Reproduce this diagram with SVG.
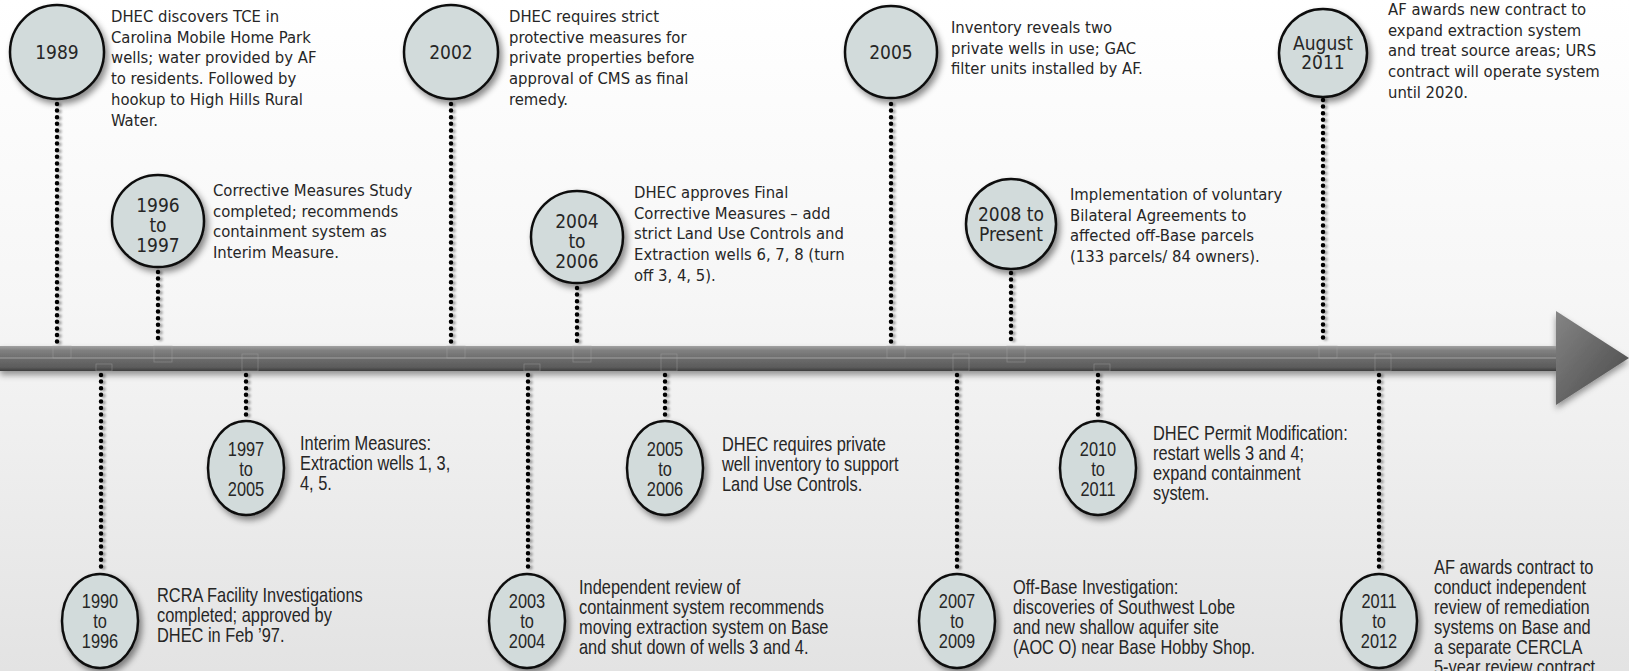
<svg xmlns="http://www.w3.org/2000/svg" width="1629" height="671" viewBox="0 0 1629 671">
<defs>
  <linearGradient id="bg" x1="0" y1="0" x2="0" y2="1">
    <stop offset="0" stop-color="#ffffff"/>
    <stop offset="0.45" stop-color="#f6f6f6"/>
    <stop offset="1" stop-color="#e3e3e3"/>
  </linearGradient>
  <linearGradient id="bar" x1="0" y1="0" x2="0" y2="1">
    <stop offset="0" stop-color="#a2a2a2"/>
    <stop offset="0.18" stop-color="#808080"/>
    <stop offset="0.5" stop-color="#6c6c6c"/>
    <stop offset="0.85" stop-color="#5c5c5c"/>
    <stop offset="1" stop-color="#3c3c3c"/>
  </linearGradient>
  <linearGradient id="head" x1="0" y1="0" x2="1" y2="1">
    <stop offset="0" stop-color="#858585"/>
    <stop offset="0.5" stop-color="#666666"/>
    <stop offset="1" stop-color="#484848"/>
  </linearGradient>
  <filter id="sh" x="-30%" y="-30%" width="160%" height="160%">
    <feDropShadow dx="3" dy="4" stdDeviation="3" flood-color="#000" flood-opacity="0.45"/>
  </filter>
  <filter id="dsh" x="-50%" y="-5%" width="200%" height="110%">
    <feDropShadow dx="2.5" dy="1" stdDeviation="1.2" flood-color="#000" flood-opacity="0.35"/>
  </filter>
  <filter id="bsh" x="-5%" y="-50%" width="110%" height="200%">
    <feDropShadow dx="0" dy="4" stdDeviation="3" flood-color="#000" flood-opacity="0.4"/>
  </filter>
</defs>
<style>
  .c { fill:#d2dbdb; stroke:#111; stroke-width:2.5; filter:url(#sh); }
  .dot { stroke:#000; stroke-width:4.5; stroke-linecap:round; stroke-dasharray:0 6.6; fill:none; }
  .t { font-family:"DejaVu Sans Condensed","DejaVu Sans",sans-serif; font-stretch:condensed; font-size:16.5px; fill:#262626; }
  .lt { font-family:"DejaVu Sans Condensed","DejaVu Sans",sans-serif; font-stretch:condensed; font-size:19px; fill:#262626; text-anchor:middle; }
  .b { font-family:"Liberation Sans",Arial,sans-serif; font-size:20px; fill:#262626; }
  .bl { font-family:"Liberation Sans",Arial,sans-serif; font-size:20px; fill:#262626; text-anchor:middle; }
  .tab { fill:none; stroke:#a8a8a8; stroke-width:0.8; opacity:0.5; }
</style>

<rect x="0" y="0" width="1629" height="671" fill="url(#bg)"/>

<g id="timeline-arrow">
  <g filter="url(#bsh)">
    <rect x="0" y="346" width="1560" height="25" fill="url(#bar)"/>
    <polygon points="1556,311 1629,358 1556,405" fill="url(#head)"/>
  </g>
  <line x1="0" y1="358" x2="1556" y2="358" stroke="#c4c4c4" stroke-width="1" opacity="0.6"/>
  <rect class="tab" x="53" y="346" width="18" height="12"/>
  <rect class="tab" x="154" y="346" width="18" height="16"/>
  <rect class="tab" x="447" y="346" width="18" height="12"/>
  <rect class="tab" x="573" y="346" width="18" height="16"/>
  <rect class="tab" x="887" y="346" width="18" height="12"/>
  <rect class="tab" x="1007" y="346" width="18" height="16"/>
  <rect class="tab" x="1319" y="346" width="18" height="12"/>
  <rect class="tab" x="96" y="364" width="16" height="7"/>
  <rect class="tab" x="242" y="354" width="16" height="17"/>
  <rect class="tab" x="524" y="364" width="16" height="7"/>
  <rect class="tab" x="661" y="354" width="16" height="17"/>
  <rect class="tab" x="953" y="354" width="16" height="17"/>
  <rect class="tab" x="1094" y="364" width="16" height="7"/>
  <rect class="tab" x="1375" y="354" width="16" height="17"/>
</g>

<g id="connectors" filter="url(#dsh)">
  <line class="dot" x1="57" y1="104" x2="57" y2="344"/>
  <line class="dot" x1="158" y1="272" x2="158" y2="344"/>
  <line class="dot" x1="451" y1="104" x2="451" y2="344"/>
  <line class="dot" x1="577" y1="288" x2="577" y2="344"/>
  <line class="dot" x1="891" y1="104" x2="891" y2="344"/>
  <line class="dot" x1="1011" y1="273" x2="1011" y2="344"/>
  <line class="dot" x1="1323" y1="100" x2="1323" y2="344"/>
  <line class="dot" x1="101" y1="375" x2="101" y2="571"/>
  <line class="dot" x1="246" y1="375" x2="246" y2="418"/>
  <line class="dot" x1="528" y1="375" x2="528" y2="571"/>
  <line class="dot" x1="665" y1="375" x2="665" y2="418"/>
  <line class="dot" x1="957" y1="375" x2="957" y2="571"/>
  <line class="dot" x1="1098" y1="375" x2="1098" y2="418"/>
  <line class="dot" x1="1379" y1="375" x2="1379" y2="571"/>
</g>

<g id="n1989">
  <circle class="c" cx="57" cy="52" r="47"/>
  <text class="lt" x="57" y="59">1989</text>
  <text class="t"><tspan x="111" y="22">DHEC discovers TCE in</tspan><tspan x="111" y="42.7">Carolina Mobile Home Park</tspan><tspan x="111" y="63.4">wells; water provided by AF</tspan><tspan x="111" y="84.1">to residents. Followed by</tspan><tspan x="111" y="104.8">hookup to High Hills Rural</tspan><tspan x="111" y="125.5">Water.</tspan></text>
</g>

<g id="n1996">
  <circle class="c" cx="158" cy="221" r="46"/>
  <text class="lt"><tspan x="158" y="212">1996</tspan><tspan x="158" y="232">to</tspan><tspan x="158" y="252">1997</tspan></text>
  <text class="t"><tspan x="213" y="196">Corrective Measures Study</tspan><tspan x="213" y="216.7">completed; recommends</tspan><tspan x="213" y="237.4">containment system as</tspan><tspan x="213" y="258.1">Interim Measure.</tspan></text>
</g>

<g id="n2002">
  <circle class="c" cx="451" cy="52" r="47"/>
  <text class="lt" x="451" y="59">2002</text>
  <text class="t"><tspan x="509" y="22">DHEC requires strict</tspan><tspan x="509" y="42.7">protective measures for</tspan><tspan x="509" y="63.4">private properties before</tspan><tspan x="509" y="84.1">approval of CMS as final</tspan><tspan x="509" y="104.8">remedy.</tspan></text>
</g>

<g id="n2004">
  <circle class="c" cx="577" cy="237" r="46"/>
  <text class="lt"><tspan x="577" y="228">2004</tspan><tspan x="577" y="248">to</tspan><tspan x="577" y="268">2006</tspan></text>
  <text class="t"><tspan x="634" y="198">DHEC approves Final</tspan><tspan x="634" y="218.7">Corrective Measures – add</tspan><tspan x="634" y="239.4">strict Land Use Controls and</tspan><tspan x="634" y="260.1">Extraction wells 6, 7, 8 (turn</tspan><tspan x="634" y="280.8">off 3, 4, 5).</tspan></text>
</g>

<g id="n2005">
  <circle class="c" cx="891" cy="52" r="46"/>
  <text class="lt" x="891" y="59">2005</text>
  <text class="t"><tspan x="951" y="33">Inventory reveals two</tspan><tspan x="951" y="53.7">private wells in use; GAC</tspan><tspan x="951" y="74.4">filter units installed by AF.</tspan></text>
</g>

<g id="n2008">
  <circle class="c" cx="1011" cy="224" r="45"/>
  <text class="lt"><tspan x="1011" y="221">2008 to</tspan><tspan x="1011" y="241">Present</tspan></text>
  <text class="t"><tspan x="1070" y="200">Implementation of voluntary</tspan><tspan x="1070" y="220.7">Bilateral Agreements to</tspan><tspan x="1070" y="241.4">affected off-Base parcels</tspan><tspan x="1070" y="262.1">(133 parcels/ 84 owners).</tspan></text>
</g>

<g id="nAug2011">
  <circle class="c" cx="1323" cy="53" r="44"/>
  <text class="lt"><tspan x="1323" y="50">August</tspan><tspan x="1323" y="69">2011</tspan></text>
  <text class="t"><tspan x="1388" y="15">AF awards new contract to</tspan><tspan x="1388" y="35.7">expand extraction system</tspan><tspan x="1388" y="56.4">and treat source areas; URS</tspan><tspan x="1388" y="77.1">contract will operate system</tspan><tspan x="1388" y="97.8">until 2020.</tspan></text>
</g>

<g id="n1990">
  <ellipse class="c" cx="100" cy="621" rx="38" ry="47"/>
  <text class="bl" transform="translate(100 0) scale(0.82 1)"><tspan x="0" y="608">1990</tspan><tspan x="0" y="628">to</tspan><tspan x="0" y="648">1996</tspan></text>
  <text class="b" transform="translate(157 602) scale(0.82 1)"><tspan x="0" y="0">RCRA Facility Investigations</tspan><tspan x="0" y="20">completed; approved by</tspan><tspan x="0" y="40">DHEC in Feb ’97.</tspan></text>
</g>

<g id="n1997">
  <ellipse class="c" cx="246" cy="468" rx="38" ry="47"/>
  <text class="bl" transform="translate(246 0) scale(0.82 1)"><tspan x="0" y="456">1997</tspan><tspan x="0" y="476">to</tspan><tspan x="0" y="496">2005</tspan></text>
  <text class="b" transform="translate(300 450) scale(0.82 1)"><tspan x="0" y="0">Interim Measures:</tspan><tspan x="0" y="20">Extraction wells 1, 3,</tspan><tspan x="0" y="40">4, 5.</tspan></text>
</g>

<g id="n2003">
  <ellipse class="c" cx="527" cy="621" rx="38" ry="47"/>
  <text class="bl" transform="translate(527 0) scale(0.82 1)"><tspan x="0" y="608">2003</tspan><tspan x="0" y="628">to</tspan><tspan x="0" y="648">2004</tspan></text>
  <text class="b" transform="translate(579 594) scale(0.82 1)"><tspan x="0" y="0">Independent review of</tspan><tspan x="0" y="20">containment system recommends</tspan><tspan x="0" y="40">moving extraction system on Base</tspan><tspan x="0" y="60">and shut down of wells 3 and 4.</tspan></text>
</g>

<g id="n2005b">
  <ellipse class="c" cx="665" cy="468" rx="38" ry="47"/>
  <text class="bl" transform="translate(665 0) scale(0.82 1)"><tspan x="0" y="456">2005</tspan><tspan x="0" y="476">to</tspan><tspan x="0" y="496">2006</tspan></text>
  <text class="b" transform="translate(722 451) scale(0.82 1)"><tspan x="0" y="0">DHEC requires private</tspan><tspan x="0" y="20">well inventory to support</tspan><tspan x="0" y="40">Land Use Controls.</tspan></text>
</g>

<g id="n2007">
  <ellipse class="c" cx="957" cy="621" rx="38" ry="47"/>
  <text class="bl" transform="translate(957 0) scale(0.82 1)"><tspan x="0" y="608">2007</tspan><tspan x="0" y="628">to</tspan><tspan x="0" y="648">2009</tspan></text>
  <text class="b" transform="translate(1013 594) scale(0.82 1)"><tspan x="0" y="0">Off-Base Investigation:</tspan><tspan x="0" y="20">discoveries of Southwest Lobe</tspan><tspan x="0" y="40">and new shallow aquifer site</tspan><tspan x="0" y="60">(AOC O) near Base Hobby Shop.</tspan></text>
</g>

<g id="n2010">
  <ellipse class="c" cx="1098" cy="468" rx="38" ry="47"/>
  <text class="bl" transform="translate(1098 0) scale(0.82 1)"><tspan x="0" y="456">2010</tspan><tspan x="0" y="476">to</tspan><tspan x="0" y="496">2011</tspan></text>
  <text class="b" transform="translate(1153 440) scale(0.82 1)"><tspan x="0" y="0">DHEC Permit Modification:</tspan><tspan x="0" y="20">restart wells 3 and 4;</tspan><tspan x="0" y="40">expand containment</tspan><tspan x="0" y="60">system.</tspan></text>
</g>

<g id="n2011">
  <ellipse class="c" cx="1379" cy="621" rx="38" ry="47"/>
  <text class="bl" transform="translate(1379 0) scale(0.82 1)"><tspan x="0" y="608">2011</tspan><tspan x="0" y="628">to</tspan><tspan x="0" y="648">2012</tspan></text>
  <text class="b" transform="translate(1434 574) scale(0.82 1)"><tspan x="0" y="0">AF awards contract to</tspan><tspan x="0" y="20">conduct independent</tspan><tspan x="0" y="40">review of remediation</tspan><tspan x="0" y="60">systems on Base and</tspan><tspan x="0" y="80">a separate CERCLA</tspan><tspan x="0" y="100">5-year review contract</tspan></text>
</g>
</svg>
